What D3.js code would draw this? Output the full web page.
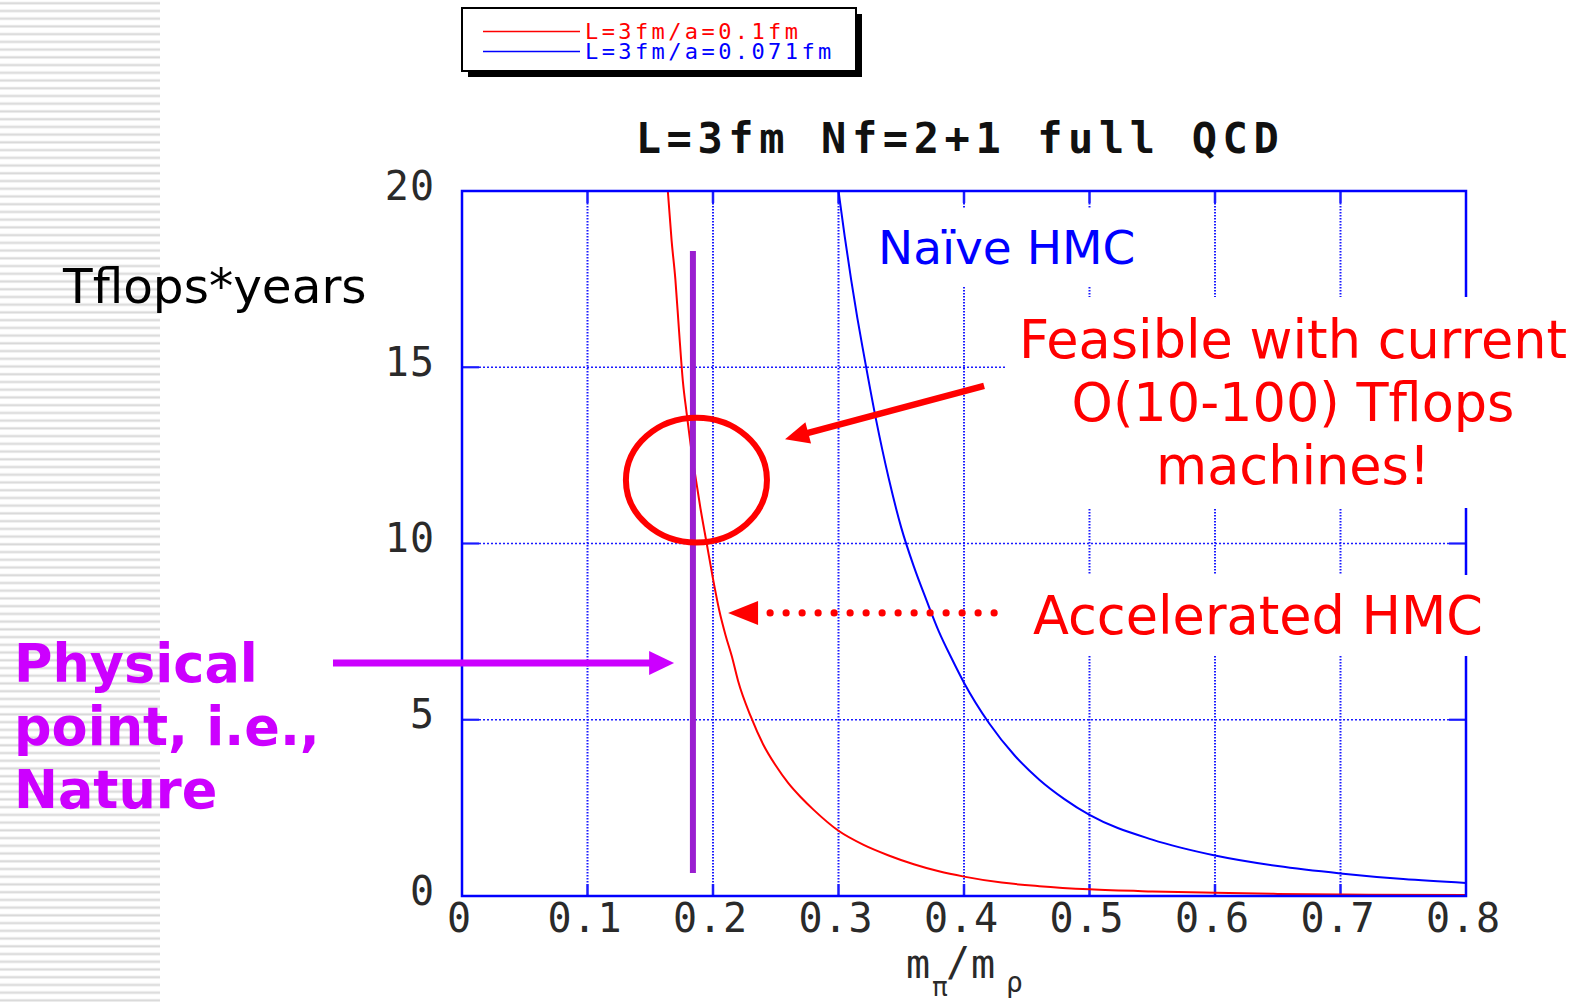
<!DOCTYPE html>
<html>
<head>
<meta charset="utf-8">
<script src="https://cdn.jsdelivr.net/npm/d3@7"></script>
<style>
  body { margin: 0; background: #fff; }
  svg { display: block; }
  .tick text { font-family: 'DejaVu Sans Mono', monospace; font-size: 40px; letter-spacing: 1px; fill: #2a2a2a; }
  .note { font-family: 'DejaVu Sans', Verdana, sans-serif; }
  .mono { font-family: 'DejaVu Sans Mono', monospace; }
</style>
</head>
<body>
<div id="chart"></div>
<script>
// ---- values ----
var xTicks = [0, 0.1, 0.2, 0.3, 0.4, 0.5, 0.6, 0.7, 0.8];
var xTickLabels = ["0", "0.1", "0.2", "0.3", "0.4", "0.5", "0.6", "0.7", "0.8"];
var yTicks = [0, 5, 10, 15, 20];
var yTickLabels = ["0", "5", "10", "15", "20"];

var seriesNames = ["L=3fm/a=0.1fm", "L=3fm/a=0.071fm"];
var seriesColors = ["#ff0000", "#0000ff"];

// a = 0.1 fm (red)
var redX = [0.164, 0.167, 0.170, 0.173, 0.176, 0.179, 0.183, 0.186, 0.190, 0.195, 0.200, 0.205,
            0.210, 0.215, 0.220, 0.230, 0.240, 0.250, 0.260, 0.270, 0.280, 0.300, 0.320, 0.340,
            0.360, 0.380, 0.400, 0.430, 0.460, 0.500, 0.550, 0.600, 0.650, 0.700, 0.800];
var redY = [20.0, 18.6, 17.5, 16.0, 14.6, 13.7, 12.6, 11.9, 11.0, 10.0, 9.0, 8.1,
            7.4, 6.8, 6.1, 5.1, 4.3, 3.7, 3.2, 2.8, 2.45, 1.85, 1.45, 1.15,
            0.9, 0.7, 0.55, 0.38, 0.28, 0.19, 0.13, 0.09, 0.06, 0.04, 0.03];
// a = 0.071 fm (blue)
var blueX = [0.300, 0.305, 0.310, 0.315, 0.320, 0.330, 0.340, 0.350, 0.360, 0.370, 0.380, 0.390,
             0.400, 0.420, 0.440, 0.460, 0.480, 0.500, 0.550, 0.600, 0.650, 0.700, 0.750, 0.800];
var blueY = [20.0, 18.7, 17.5, 16.4, 15.4, 13.5, 11.85, 10.45, 9.35, 8.4, 7.5, 6.75,
             6.05, 4.9, 4.0, 3.3, 2.75, 2.3, 1.6, 1.15, 0.85, 0.64, 0.48, 0.37];

var physicalX = 0.184;
var physicalSpan = [0.65, 18.3];

// ---- setup ----
var W = 1582, H = 1003;
var plot = { left: 462, right: 1466, top: 191, bottom: 896 };

var x = d3.scaleLinear().domain([0, 0.8]).range([plot.left, plot.right]);
var y = d3.scaleLinear().domain([0, 20]).range([plot.bottom, plot.top]);

var svg = d3.select("#chart").append("svg").attr("width", W).attr("height", H);

// striped strip on the left of the slide
var defs = svg.append("defs");
var pat = defs.append("pattern").attr("id", "stripes")
    .attr("patternUnits", "userSpaceOnUse").attr("width", 160).attr("height", 7.73);
pat.append("rect").attr("y", 1.6).attr("width", 160).attr("height", 3.2).attr("fill", "#f0f0f0");
pat.append("rect").attr("y", 2.4).attr("width", 160).attr("height", 1.6).attr("fill", "#d9d9d9");
svg.append("rect").attr("width", 160).attr("height", H).attr("fill", "url(#stripes)");

// ---- legend ----
var lg = svg.append("g");
lg.append("rect").attr("x", 468).attr("y", 14).attr("width", 394).attr("height", 63).attr("fill", "#000");
lg.append("rect").attr("x", 462).attr("y", 8).attr("width", 394).attr("height", 63)
    .attr("fill", "#fff").attr("stroke", "#000").attr("stroke-width", 2);
seriesNames.forEach(function(n, i) {
  lg.append("line").attr("x1", 483).attr("x2", 580)
    .attr("y1", 31.5 + 20 * i).attr("y2", 31.5 + 20 * i)
    .attr("stroke", seriesColors[i]).attr("stroke-width", 1.5);
  lg.append("text").attr("class", "mono").attr("x", 585).attr("y", 39 + 20 * i)
    .attr("font-size", 22).attr("letter-spacing", 3.4)
    .attr("fill", seriesColors[i]).text(n);
});

// ---- title ----
svg.append("text").attr("class", "mono")
  .attr("x", (plot.left + plot.right) / 2 - 4).attr("y", 153)
  .attr("text-anchor", "middle").attr("font-size", 42).attr("font-weight", "bold")
  .attr("letter-spacing", 5.6).attr("fill", "#111")
  .text("L=3fm Nf=2+1 full QCD");

// ---- grid ----
var grid = svg.append("g").attr("stroke", "#1a1aff");
var xTick = 12, yTick = 17;
xTicks.slice(1, -1).forEach(function(v) {
  grid.append("line").attr("x1", x(v)).attr("x2", x(v))
    .attr("y1", plot.top + xTick).attr("y2", plot.bottom - xTick)
    .attr("stroke-width", 2).attr("stroke-dasharray", "1.5,1.5");
  grid.append("line").attr("x1", x(v)).attr("x2", x(v))
    .attr("y1", plot.top).attr("y2", plot.top + xTick).attr("stroke-width", 2.5);
  grid.append("line").attr("x1", x(v)).attr("x2", x(v))
    .attr("y1", plot.bottom - xTick).attr("y2", plot.bottom).attr("stroke-width", 2.5);
});
yTicks.slice(1, -1).forEach(function(v) {
  grid.append("line").attr("y1", y(v)).attr("y2", y(v))
    .attr("x1", plot.left + yTick).attr("x2", plot.right - yTick)
    .attr("stroke-width", 1.6).attr("stroke-dasharray", "2,2");
  grid.append("line").attr("y1", y(v)).attr("y2", y(v))
    .attr("x1", plot.left).attr("x2", plot.left + yTick).attr("stroke-width", 2.2);
  grid.append("line").attr("y1", y(v)).attr("y2", y(v))
    .attr("x1", plot.right - yTick).attr("x2", plot.right).attr("stroke-width", 2.2);
});

// ---- axes labels ----
var xAxis = d3.axisBottom(x).tickValues(xTicks)
  .tickFormat(function(d, i) { return xTickLabels[i]; })
  .tickSize(0).tickPadding(8);
var gx = svg.append("g").attr("transform", "translate(0," + plot.bottom + ")").call(xAxis);
gx.select(".domain").remove();
gx.selectAll("text").attr("dy", "0.71em").attr("dx", "-3");

var yAxis = d3.axisLeft(y).tickValues(yTicks)
  .tickFormat(function(d, i) { return yTickLabels[i]; })
  .tickSize(0).tickPadding(27);
var gy = svg.append("g").attr("transform", "translate(" + plot.left + ",0)").call(yAxis);
gy.select(".domain").remove();
gy.selectAll("text").attr("dy", "0.2em");

// x axis title m_pi / m_rho
var xl = svg.append("text").attr("class", "mono").attr("font-size", 40).attr("fill", "#2a2a2a");
xl.append("tspan").attr("x", 906).attr("y", 978).text("m");
xl.append("tspan").attr("x", 932).attr("y", 996).attr("font-size", 26).text("π");
xl.append("tspan").attr("x", 946).attr("y", 976).text("/");
xl.append("tspan").attr("x", 971).attr("y", 978).text("m");
xl.append("tspan").attr("x", 1006).attr("y", 992).attr("font-size", 28).text("ρ");

// ---- curves ----
var line = d3.line().x(function(d) { return x(d[0]); }).y(function(d) { return y(d[1]); })
  .curve(d3.curveMonotoneX);
var redData = redX.map(function(v, i) { return [v, redY[i]]; });
var blueData = blueX.map(function(v, i) { return [v, blueY[i]]; });
svg.append("path").datum(redData).attr("d", line)
  .attr("fill", "none").attr("stroke", seriesColors[0]).attr("stroke-width", 2);
svg.append("path").datum(blueData).attr("d", line)
  .attr("fill", "none").attr("stroke", seriesColors[1]).attr("stroke-width", 2);

// plot frame
svg.append("rect").attr("x", plot.left).attr("y", plot.top)
  .attr("width", plot.right - plot.left).attr("height", plot.bottom - plot.top)
  .attr("fill", "none").attr("stroke", "#0000ff").attr("stroke-width", 2.5);

// physical point
svg.append("line").attr("x1", x(physicalX)).attr("x2", x(physicalX))
  .attr("y1", y(physicalSpan[0])).attr("y2", y(physicalSpan[1]))
  .attr("stroke", "#9a1fd0").attr("stroke-width", 6);

// ---- annotations (text boxes have a white fill that hides the grid) ----
function boxed(textSel, padX, padY) {
  var b = textSel.node().getBBox();
  svg.insert("rect", function() { return textSel.node(); })
    .attr("x", b.x - padX).attr("y", b.y - padY)
    .attr("width", b.width + 2 * padX).attr("height", b.height + 2 * padY)
    .attr("fill", "#fff");
}

var naive = svg.append("text").attr("class", "note").attr("x", 878).attr("y", 264)
  .attr("font-size", 47).attr("fill", "#0000ff").text("Naïve HMC");
boxed(naive, 10, 12);

var feas = svg.append("text").attr("class", "note").attr("text-anchor", "middle")
  .attr("font-size", 52.5).attr("fill", "#ff0000");
["Feasible with current", "O(10-100) Tflops", "machines!"].forEach(function(s, i) {
  feas.append("tspan").attr("x", 1293).attr("y", 358 + 63 * i).text(s);
});
boxed(feas, 12, 12);

var acc = svg.append("text").attr("class", "note").attr("x", 1033).attr("y", 634)
  .attr("font-size", 52.5).attr("fill", "#ff0000").text("Accelerated HMC");
boxed(acc, 12, 10);

svg.append("text").attr("class", "note").attr("x", 63).attr("y", 303)
  .attr("font-size", 48.5).attr("fill", "#000").text("Tflops*years");

var phys = svg.append("text").attr("class", "note").attr("font-size", 52.5)
  .attr("font-weight", "bold").attr("fill", "#cc00ff");
["Physical", "point, i.e.,", "Nature"].forEach(function(s, i) {
  phys.append("tspan").attr("x", 14).attr("y", 682 + 63 * i).text(s);
});

// red ellipse
svg.append("ellipse").attr("cx", x(0.1868)).attr("cy", y(11.8))
  .attr("rx", x(0.0562) - x(0)).attr("ry", y(0) - y(1.77))
  .attr("fill", "none").attr("stroke", "#ff0000").attr("stroke-width", 6);

function arrow(x1, y1, x2, y2, color, w, headLen, headHalf, dotted) {
  var dx = x2 - x1, dy = y2 - y1, L = Math.sqrt(dx * dx + dy * dy);
  var ux = dx / L, uy = dy / L;
  var bx = x2 - ux * headLen, by = y2 - uy * headLen;
  if (dotted) {
    var d = 0;
    while (d <= L - headLen - 8) {
      svg.append("circle").attr("cx", x1 + ux * d).attr("cy", y1 + uy * d)
        .attr("r", 3.6).attr("fill", color);
      d += 16;
    }
  } else {
    svg.append("line").attr("x1", x1).attr("y1", y1).attr("x2", bx + ux * 2).attr("y2", by + uy * 2)
      .attr("stroke", color).attr("stroke-width", w);
  }
  svg.append("polygon").attr("points", [
    [x2, y2],
    [bx - uy * headHalf, by + ux * headHalf],
    [bx + uy * headHalf, by - ux * headHalf]
  ].map(function(p) { return p.join(","); }).join(" ")).attr("fill", color);
}

// arrow to the ellipse
arrow(x(0.416), y(14.47), x(0.2574), y(12.96), "#ff0000", 6.5, 24, 11);
// dotted arrow to the red curve
arrow(x(0.424), y(8.03), x(0.212), y(8.03), "#ff0000", 0, 30, 12, true);
// magenta arrow to the physical point
arrow(x(-0.1028), y(6.61), x(0.169), y(6.61), "#cc00ff", 7, 25, 12);
</script>
</body>
</html>
